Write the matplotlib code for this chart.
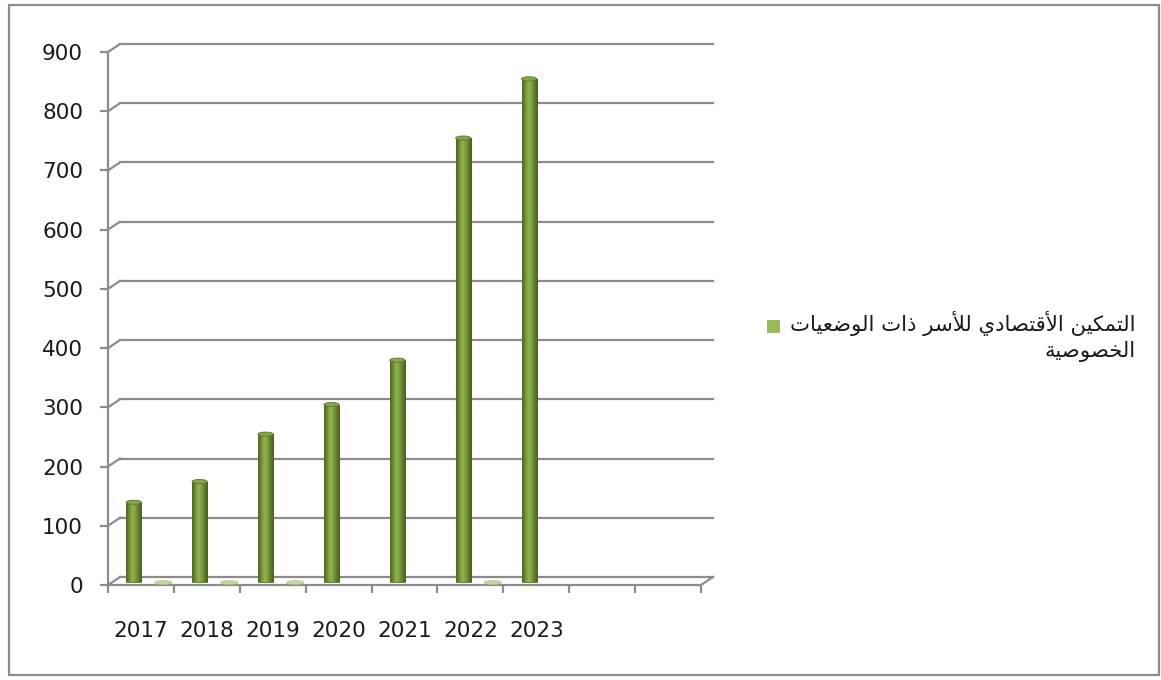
import numpy as np
import matplotlib.pyplot as plt
from matplotlib.patches import Ellipse, Rectangle
from matplotlib.colors import LinearSegmentedColormap

years = ['2017', '2018', '2019', '2020', '2021', '2022', '2023']
values = [135, 170, 250, 300, 375, 750, 850]
# second (empty) series: flat discs at these slots
zero_slots = [0, 1, 2, 5]
zero_values = [0, 0, 0, 0]
n_slots = 9
yticks = list(range(0, 1000, 100))
legend_lines = ['التمكين الأقتصادي للأسر ذات الوضعيات', 'الخصوصية']

# --- minimal arabic shaping (matplotlib has no complex text layout) ---
FORMS = {
    'ا': ('\uFE8D', '\uFE8E', None, None),
    'أ': ('\uFE83', '\uFE84', None, None),
    'ت': ('\uFE95', '\uFE96', '\uFE97', '\uFE98'),
    'ة': ('\uFE93', '\uFE94', None, None),
    'خ': ('\uFEA5', '\uFEA6', '\uFEA7', '\uFEA8'),
    'د': ('\uFEA9', '\uFEAA', None, None),
    'ذ': ('\uFEAB', '\uFEAC', None, None),
    'ر': ('\uFEAD', '\uFEAE', None, None),
    'س': ('\uFEB1', '\uFEB2', '\uFEB3', '\uFEB4'),
    'ص': ('\uFEB9', '\uFEBA', '\uFEBB', '\uFEBC'),
    'ض': ('\uFEBD', '\uFEBE', '\uFEBF', '\uFEC0'),
    'ع': ('\uFEC9', '\uFECA', '\uFECB', '\uFECC'),
    'ق': ('\uFED5', '\uFED6', '\uFED7', '\uFED8'),
    'ك': ('\uFED9', '\uFEDA', '\uFEDB', '\uFEDC'),
    'ل': ('\uFEDD', '\uFEDE', '\uFEDF', '\uFEE0'),
    'م': ('\uFEE1', '\uFEE2', '\uFEE3', '\uFEE4'),
    'ن': ('\uFEE5', '\uFEE6', '\uFEE7', '\uFEE8'),
    'و': ('\uFEED', '\uFEEE', None, None),
    'ي': ('\uFEF1', '\uFEF2', '\uFEF3', '\uFEF4'),
}
LAM_ALEF = {'ا': ('\uFEFB', '\uFEFC', None, None), 'أ': ('\uFEF7', '\uFEF8', None, None)}


def shape(s):
    toks = []
    i = 0
    while i < len(s):
        c = s[i]
        if c == 'ل' and i + 1 < len(s) and s[i + 1] in LAM_ALEF:
            toks.append(LAM_ALEF[s[i + 1]])
            i += 2
            continue
        toks.append(FORMS.get(c, c))
        i += 1
    out = []
    for k, t in enumerate(toks):
        if isinstance(t, str):
            out.append(t)
            continue
        prev = toks[k - 1] if k > 0 else None
        nxt = toks[k + 1] if k + 1 < len(toks) else None
        jp = isinstance(prev, tuple) and prev[2] is not None
        jn = t[2] is not None and isinstance(nxt, tuple)
        if jp and jn:
            out.append(t[3])
        elif jp:
            out.append(t[1])
        elif jn:
            out.append(t[2])
        else:
            out.append(t[0])
    return ''.join(out)[::-1]


W, H = 1161, 680
fig = plt.figure(figsize=(W / 100, H / 100), dpi=100)
ax = fig.add_axes([108 / W, 95 / H, 593 / W, 533 / H])
ax.set_xlim(0, n_slots)
ax.set_ylim(0, 900)

grey = '#8c8c8c'
# depth of the 3-d box in data units
DX = n_slots * 12 / 593
DY = 900 * 8 / 533

for s in ['top', 'right']:
    ax.spines[s].set_visible(False)
for s in ['left', 'bottom']:
    ax.spines[s].set_color(grey)
    ax.spines[s].set_linewidth(1.6)

# back wall gridlines + connectors
for v in yticks:
    ax.plot([DX, n_slots + DX], [v + DY, v + DY], color=grey, lw=1.6, clip_on=False, zorder=1)
    ax.plot([0, DX], [v, v + DY], color=grey, lw=1.6, clip_on=False, zorder=1)
ax.plot([n_slots, n_slots + DX], [0, DY], color=grey, lw=1.6, clip_on=False, zorder=1)

ax.set_yticks(yticks)
ax.set_xticks(range(n_slots + 1))
ax.set_xticklabels([])
ax.set_xticks([i + 0.5 for i in range(len(years))], minor=True)
ax.set_xticklabels(years, minor=True)
ax.tick_params(axis='both', which='major', length=6, width=1.6, color=grey,
               labelsize=15.5, labelcolor='#1a1a1a')
ax.tick_params(axis='y', pad=12)
ax.tick_params(axis='x', which='minor', length=0, pad=26, labelsize=15.5, labelcolor='#1a1a1a')

# cylinders
cmap = LinearSegmentedColormap.from_list('cyl', ['#4f6622', '#6f8c32', '#93b552', '#7f9f40', '#5f7a2c', '#4a601f'])
grad = np.linspace(0, 1, 64).reshape(1, -1)
bw = 0.23
xs = [i + 0.30 + DX * 0.5 for i in range(len(values))]
base = DY * 0.35
bars = ax.bar(xs, values, width=bw, bottom=base, color='#77933c', edgecolor='#5f7530', lw=0.6, zorder=3)
for b, x, v in zip(bars, xs, values):
    im = ax.imshow(grad, extent=[x - bw / 2, x + bw / 2, base, base + v], aspect='auto',
                   cmap=cmap, zorder=4)
    im.set_clip_path(b)
    ax.add_patch(Ellipse((x, base + v), bw, 7, fc='#86a547', ec='#5f7530', lw=0.6, zorder=5))

for s, v in zip(zero_slots, zero_values):
    ax.add_patch(Ellipse((s + 0.75 + DX * 0.5, v + DY * 0.3), 0.26, 6, fc='#c9dba3',
                         ec='#a8c47a', lw=0.6, zorder=3, clip_on=False))

ax.set_xlim(0, n_slots)
ax.set_ylim(0, 900)

# legend
fig.patches.append(Rectangle((767 / W, 1 - 333 / H), 13 / W, 13 / H, transform=fig.transFigure,
                             fc='#9bbb59', ec='none'))
fig.text(1136 / W, 1 - 324 / H, shape(legend_lines[0]), ha='right', va='center',
         fontsize=15.3, family='DejaVu Sans', color='#1a1a1a')
fig.text(1136 / W, 1 - 351 / H, shape(legend_lines[1]), ha='right', va='center',
         fontsize=15.3, family='DejaVu Sans', color='#1a1a1a')

# outer frame
fig.patches.append(Rectangle((9 / W, 5 / H), 1150 / W, 670 / H, transform=fig.transFigure,
                             fill=False, ec=grey, lw=1.6))

fig.savefig('out.png', dpi=100)
